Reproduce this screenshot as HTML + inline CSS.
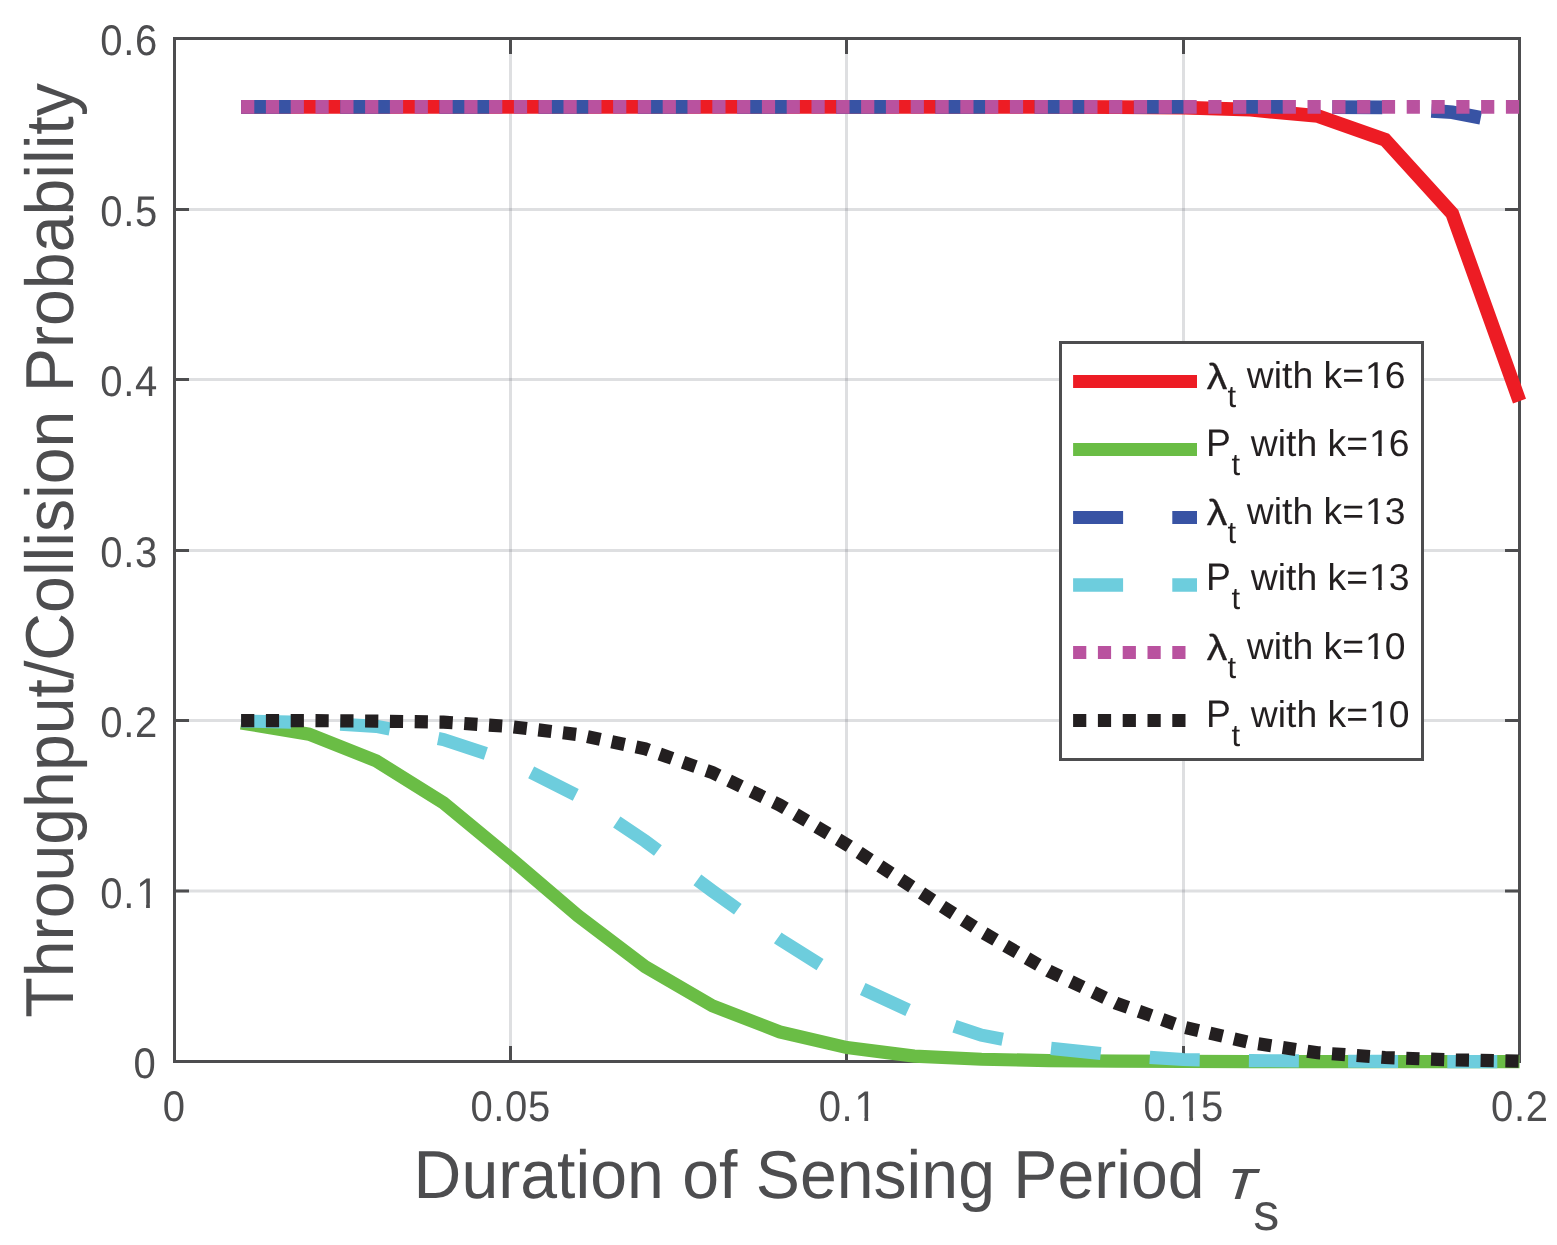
<!DOCTYPE html>
<html lang="en"><head><meta charset="utf-8"><title>Throughput/Collision Probability vs Duration of Sensing Period</title>
<style>
html,body{margin:0;padding:0;background:#fff;}
body{width:1557px;height:1245px;overflow:hidden;}
svg{display:block;}
text{font-family:"Liberation Sans",sans-serif;text-rendering:geometricPrecision;}
.tick{font-size:40px;fill:#4D4D4F;letter-spacing:0.62px;}
.lab{font-size:66.2px;fill:#4D4D4F;}
.leg{font-size:37.3px;fill:#231F20;}
.sub{font-size:31px;}
.lam{stroke:#231F20;stroke-width:0.35px;stroke-linejoin:round;}
.tau{font-family:"WenQuanYi Zen Hei","Liberation Sans",sans-serif;font-size:60px;fill:#4D4D4F;}
</style></head><body>
<svg width="1557" height="1245" viewBox="0 0 1557 1245">
<rect width="1557" height="1245" fill="#fff"/>
<g stroke="#484D58" stroke-opacity="0.18" stroke-width="3" fill="none">
<line x1="510.5" y1="38.5" x2="510.5" y2="1061.5"/>
<line x1="846.5" y1="38.5" x2="846.5" y2="1061.5"/>
<line x1="1183.5" y1="38.5" x2="1183.5" y2="1061.5"/>
<line x1="174.5" y1="209.5" x2="1519.5" y2="209.5"/>
<line x1="174.5" y1="379.5" x2="1519.5" y2="379.5"/>
<line x1="174.5" y1="550.5" x2="1519.5" y2="550.5"/>
<line x1="174.5" y1="720.5" x2="1519.5" y2="720.5"/>
<line x1="174.5" y1="891.0" x2="1519.5" y2="891.0"/>
</g>
<g stroke="#4D4D4F" stroke-width="3" fill="none" stroke-linecap="butt">
<rect x="174.5" y="38.5" width="1345.0" height="1023.0"/>
<line x1="510.5" y1="1061.5" x2="510.5" y2="1046.0"/>
<line x1="510.5" y1="38.5" x2="510.5" y2="54.0"/>
<line x1="846.5" y1="1061.5" x2="846.5" y2="1046.0"/>
<line x1="846.5" y1="38.5" x2="846.5" y2="54.0"/>
<line x1="1183.5" y1="1061.5" x2="1183.5" y2="1046.0"/>
<line x1="1183.5" y1="38.5" x2="1183.5" y2="54.0"/>
<line x1="174.5" y1="209.5" x2="189.0" y2="209.5"/>
<line x1="1519.5" y1="209.5" x2="1505.0" y2="209.5"/>
<line x1="174.5" y1="379.5" x2="189.0" y2="379.5"/>
<line x1="1519.5" y1="379.5" x2="1505.0" y2="379.5"/>
<line x1="174.5" y1="550.5" x2="189.0" y2="550.5"/>
<line x1="1519.5" y1="550.5" x2="1505.0" y2="550.5"/>
<line x1="174.5" y1="720.5" x2="189.0" y2="720.5"/>
<line x1="1519.5" y1="720.5" x2="1505.0" y2="720.5"/>
<line x1="174.5" y1="891.0" x2="189.0" y2="891.0"/>
<line x1="1519.5" y1="891.0" x2="1505.0" y2="891.0"/>
</g>
<g fill="none" stroke-linejoin="miter" stroke-linecap="butt">
<path d="M241.10,106.95 L309.00,106.95 L376.25,106.95 L443.50,106.95 L510.75,106.95 L578.00,106.95 L645.25,106.95 L712.50,106.95 L779.75,106.95 L847.00,106.95 L914.25,106.95 L981.50,106.95 L1048.75,106.95 L1116.00,107.12 L1183.25,107.63 L1250.50,109.68 L1317.75,115.99 L1385.00,139.69 L1452.25,213.68 L1519.50,401.06" stroke="#ED1C24" stroke-width="13.80"/>
<path d="M241.10,722.99 L309.00,734.24 L376.25,760.84 L443.50,802.95 L510.75,858.36 L578.00,915.82 L645.25,966.80 L712.50,1005.85 L779.75,1031.93 L847.00,1047.62 L914.25,1056.14 L981.50,1059.21 L1048.75,1060.58 L1116.00,1061.09 L1183.25,1061.43 L1250.50,1061.60 L1317.75,1061.60 L1385.00,1061.60 L1452.25,1061.60 L1519.50,1061.60" stroke="#6ABD45" stroke-width="13.15"/>
<path d="M241.10,106.95 L309.00,106.95 L376.25,106.95 L443.50,106.95 L510.75,106.95 L578.00,106.95 L645.25,106.95 L712.50,106.95 L779.75,106.95 L847.00,106.95 L914.25,106.95 L981.50,106.95 L1048.75,106.95 L1116.00,106.95 L1183.25,106.95 L1250.50,106.95 L1317.75,106.95 L1385.00,107.46 L1452.25,112.24 L1519.50,125.36" stroke="#3853A4" stroke-width="13.80" stroke-dasharray="50 49.2"/>
<path d="M241.10,720.94 L309.00,722.48 L376.25,726.40 L443.50,739.53 L510.75,761.86 L578.00,796.13 L645.25,841.14 L712.50,891.10 L779.75,939.35 L847.00,981.64 L914.25,1012.84 L981.50,1035.17 L1048.75,1048.13 L1116.00,1055.12 L1183.25,1059.55 L1250.50,1060.58 L1317.75,1061.09 L1385.00,1061.43 L1452.25,1061.60 L1519.50,1061.60" stroke="#6DCDDD" stroke-width="13.15" stroke-dasharray="50 49.2"/>
<path d="M241.10,106.95 L309.00,106.95 L376.25,106.95 L443.50,106.95 L510.75,106.95 L578.00,106.95 L645.25,106.95 L712.50,106.95 L779.75,106.95 L847.00,106.95 L914.25,106.95 L981.50,106.95 L1048.75,106.95 L1116.00,106.95 L1183.25,106.95 L1250.50,106.95 L1317.75,106.95 L1385.00,106.95 L1452.25,106.95 L1519.50,106.95" stroke="#B9529F" stroke-width="13.80" stroke-dasharray="13.2 11.6"/>
<path d="M241.10,720.60 L309.00,720.60 L376.25,721.11 L443.50,722.13 L510.75,726.57 L578.00,734.58 L645.25,748.90 L712.50,772.60 L779.75,805.00 L847.00,844.72 L914.25,888.37 L981.50,931.68 L1048.75,970.89 L1116.00,1003.12 L1183.25,1026.99 L1250.50,1042.67 L1317.75,1052.73 L1385.00,1057.51 L1452.25,1059.89 L1519.50,1061.09" stroke="#231F20" stroke-width="13.15" stroke-dasharray="13.2 11.6"/>
</g>
<text class="tick" transform="translate(133.45,1078.00) scale(1,1.07)">0</text>
<text class="tick" transform="translate(100.35,908.00) scale(1,1.07)" x="0.00 22.87 35.80" clip-path="url(#c1)">0.1</text>
<text class="tick" transform="translate(100.35,737.00) scale(1,1.07)">0.2</text>
<text class="tick" transform="translate(100.35,567.00) scale(1,1.07)">0.3</text>
<text class="tick" transform="translate(100.35,396.00) scale(1,1.07)">0.4</text>
<text class="tick" transform="translate(100.35,226.00) scale(1,1.07)">0.5</text>
<text class="tick" transform="translate(100.35,55.00) scale(1,1.07)">0.6</text>
<text class="tick" transform="translate(162.75,1121.00) scale(1,1.07)">0</text>
<text class="tick" transform="translate(470.45,1121.00) scale(1,1.07)">0.05</text>
<text class="tick" transform="translate(818.65,1121.00) scale(1,1.07)" x="0.00 22.87 35.80" clip-path="url(#c2)">0.1</text>
<text class="tick" transform="translate(1143.55,1121.00) scale(1,1.07)" x="0.00 22.87 35.80 57.47" clip-path="url(#c3)">0.15</text>
<text class="tick" transform="translate(1491.05,1121.00) scale(1,1.07)">0.2</text>
<text class="lab" transform="translate(413.60,1198.00) scale(1,1.025)">Duration of Sensing Period</text>
<text class="tau" transform="translate(1223.60,1199.00) skewX(-17.5)">τ</text>
<text class="lab" style="font-size:52px" transform="translate(1253.2,1230)">s</text>
<text class="lab" text-anchor="middle" transform="translate(73.1,550.4) rotate(-90) scale(1,1.025)">Throughput/Collision Probability</text>
<rect x="1060.5" y="342.5" width="362.0" height="417.0" fill="#fff" stroke="#4D4D4F" stroke-width="3"/>
<g fill="none">
<path d="M1073.1,381.50 L1197,381.50" stroke="#ED1C24" stroke-width="13.00"/>
<path d="M1073.1,449.50 L1197,449.50" stroke="#6ABD45" stroke-width="13.00"/>
<path d="M1073.1,517.50 L1197,517.50" stroke="#3853A4" stroke-width="13.00" stroke-dasharray="50 49.2"/>
<path d="M1073.1,585.00 L1197,585.00" stroke="#6DCDDD" stroke-width="13.60" stroke-dasharray="50 49.2"/>
<path d="M1073.1,652.50 L1197,652.50" stroke="#B9529F" stroke-width="13.00" stroke-dasharray="13.2 11.6"/>
<path d="M1073.1,720.50 L1197,720.50" stroke="#231F20" stroke-width="13.00" stroke-dasharray="13.2 11.6"/>
</g>
<text class="leg lam" transform="translate(1206.8,389) scale(1.1,0.975)">λ</text>
<text class="leg sub" transform="translate(1227.60,407.00)">t</text>
<text class="leg" transform="translate(1246.80,388.00)" x="0.00 26.94 35.22 45.59 66.33 76.69 95.34 118.13 137.87" clip-path="url(#c4)">with k=16</text>
<text class="leg" transform="translate(1206.00,456.00) scale(1,1.03)">P</text>
<text class="leg sub" transform="translate(1231.60,475.00)">t</text>
<text class="leg" transform="translate(1250.80,456.00)" x="0.00 26.94 35.22 45.59 66.33 76.69 95.34 118.13 137.87" clip-path="url(#c5)">with k=16</text>
<text class="leg lam" transform="translate(1206.8,525) scale(1.1,0.975)">λ</text>
<text class="leg sub" transform="translate(1227.60,543.00)">t</text>
<text class="leg" transform="translate(1246.80,524.00)" x="0.00 26.94 35.22 45.59 66.33 76.69 95.34 118.13 137.87" clip-path="url(#c6)">with k=13</text>
<text class="leg" transform="translate(1206.00,590.00) scale(1,1.03)">P</text>
<text class="leg sub" transform="translate(1231.60,609.00)">t</text>
<text class="leg" transform="translate(1250.80,590.00)" x="0.00 26.94 35.22 45.59 66.33 76.69 95.34 118.13 137.87" clip-path="url(#c7)">with k=13</text>
<text class="leg lam" transform="translate(1206.8,660) scale(1.1,0.975)">λ</text>
<text class="leg sub" transform="translate(1227.60,678.00)">t</text>
<text class="leg" transform="translate(1246.80,659.00)" x="0.00 26.94 35.22 45.59 66.33 76.69 95.34 118.13 137.87" clip-path="url(#c8)">with k=10</text>
<text class="leg" transform="translate(1206.00,727.00) scale(1,1.03)">P</text>
<text class="leg sub" transform="translate(1231.60,746.00)">t</text>
<text class="leg" transform="translate(1250.80,727.00)" x="0.00 26.94 35.22 45.59 66.33 76.69 95.34 118.13 137.87" clip-path="url(#c9)">with k=10</text>
<defs>
<clipPath id="c1"><path clip-rule="evenodd" d="M-4.00,-48.00 H63.47 V20.00 H-4.00 Z M37.85,-4.49 H45.74 V2.00 H37.85 Z M49.51,-4.49 H57.09 V2.00 H49.51 Z"/></clipPath>
<clipPath id="c2"><path clip-rule="evenodd" d="M-4.00,-48.00 H63.47 V20.00 H-4.00 Z M37.85,-4.49 H45.74 V2.00 H37.85 Z M49.51,-4.49 H57.09 V2.00 H49.51 Z"/></clipPath>
<clipPath id="c3"><path clip-rule="evenodd" d="M-4.00,-48.00 H86.33 V20.00 H-4.00 Z M37.85,-4.49 H45.74 V2.00 H37.85 Z M49.51,-4.49 H57.09 V2.00 H49.51 Z"/></clipPath>
<clipPath id="c4"><path clip-rule="evenodd" d="M-4.00,-44.76 H164.62 V18.65 H-4.00 Z M119.97,-4.29 H127.39 V2.00 H119.97 Z M130.92,-4.29 H138.05 V2.00 H130.92 Z"/></clipPath>
<clipPath id="c5"><path clip-rule="evenodd" d="M-4.00,-44.76 H164.62 V18.65 H-4.00 Z M119.97,-4.29 H127.39 V2.00 H119.97 Z M130.92,-4.29 H138.05 V2.00 H130.92 Z"/></clipPath>
<clipPath id="c6"><path clip-rule="evenodd" d="M-4.00,-44.76 H164.62 V18.65 H-4.00 Z M119.97,-4.29 H127.39 V2.00 H119.97 Z M130.92,-4.29 H138.05 V2.00 H130.92 Z"/></clipPath>
<clipPath id="c7"><path clip-rule="evenodd" d="M-4.00,-44.76 H164.62 V18.65 H-4.00 Z M119.97,-4.29 H127.39 V2.00 H119.97 Z M130.92,-4.29 H138.05 V2.00 H130.92 Z"/></clipPath>
<clipPath id="c8"><path clip-rule="evenodd" d="M-4.00,-44.76 H164.62 V18.65 H-4.00 Z M119.97,-4.29 H127.39 V2.00 H119.97 Z M130.92,-4.29 H138.05 V2.00 H130.92 Z"/></clipPath>
<clipPath id="c9"><path clip-rule="evenodd" d="M-4.00,-44.76 H164.62 V18.65 H-4.00 Z M119.97,-4.29 H127.39 V2.00 H119.97 Z M130.92,-4.29 H138.05 V2.00 H130.92 Z"/></clipPath>
</defs>
</svg>
</body></html>
